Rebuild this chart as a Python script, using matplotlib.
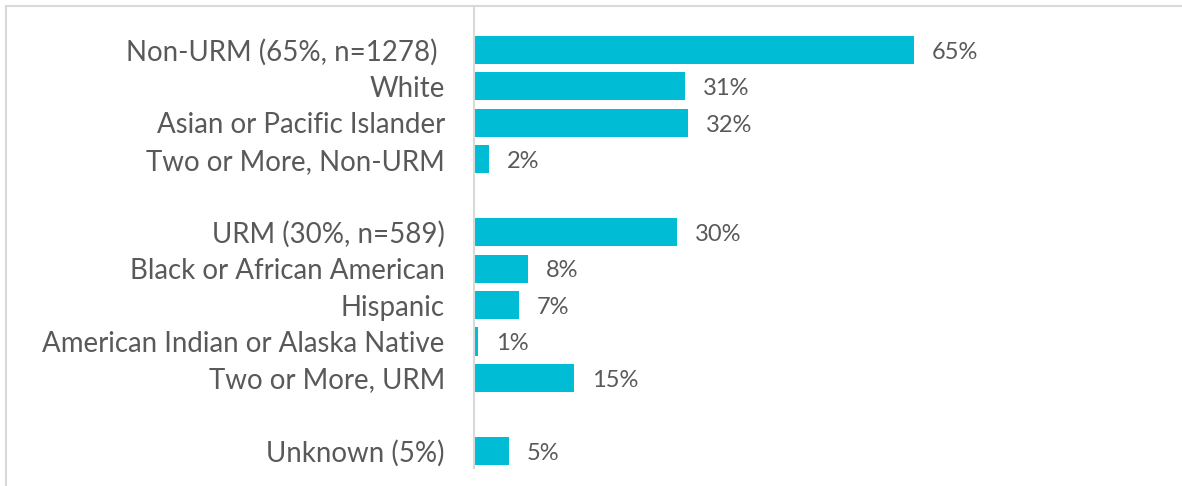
import matplotlib.pyplot as plt
from matplotlib.lines import Line2D

# rows top to bottom, None marks a blank spacer row
categories = ["Non-URM (65%, n=1278) ", "White", "Asian or Pacific Islander",
              "Two or More, Non-URM", None,
              "URM (30%, n=589)", "Black or African American", "Hispanic",
              "American Indian or Alaska Native", "Two or More, URM", None,
              "Unknown (5%)"]
values = [65, 31.2, 31.6, 2.2, None, 30, 8, 6.6, 0.6, 14.8, None, 5.2]
value_labels = ["65%", "31%", "32%", "2%", None, "30%", "8%", "7%", "1%", "15%", None, "5%"]

bar_color = "#00BCD4"
text_color = "#595959"

plt.rcParams['font.family'] = ['Lato', 'DejaVu Sans']

W, H = 1182, 486
fig = plt.figure(figsize=(W / 100, H / 100), dpi=100)
ax = fig.add_axes([474 / W, 18 / H, 677 / W, 460 / H])

pos = list(range(len(categories)))
for y, v, lab in zip(pos, values, value_labels):
    if v is None:
        continue
    ax.barh(y, v, height=0.77, color=bar_color)
    ax.text(v + 2.6, y + 0.06, lab, va='center', ha='left', fontsize=17, color=text_color)

ticks = [p for p, c in zip(pos, categories) if c is not None]
ax.set_yticks(ticks)
ax.set_yticklabels([c for c in categories if c is not None], fontsize=19.9, color=text_color)
ax.tick_params(axis='y', length=0, pad=21)
ax.set_xticks([])
ax.set_xlim(0, 100)
ax.set_ylim(len(categories) - 0.53, -1.15)
for s in ['top', 'right', 'bottom']:
    ax.spines[s].set_visible(False)
ax.spines['left'].set_color('#D9D9D9')
ax.spines['left'].set_linewidth(1.5)

# chart frame (top and left edge visible in crop)
fig.add_artist(Line2D([6 / W, 1], [1 - 6 / H, 1 - 6 / H], color='#D9D9D9', lw=1.5))
fig.add_artist(Line2D([6 / W, 6 / W], [0, 1 - 6 / H], color='#D9D9D9', lw=1.5))

fig.savefig("out.png", dpi=100)
